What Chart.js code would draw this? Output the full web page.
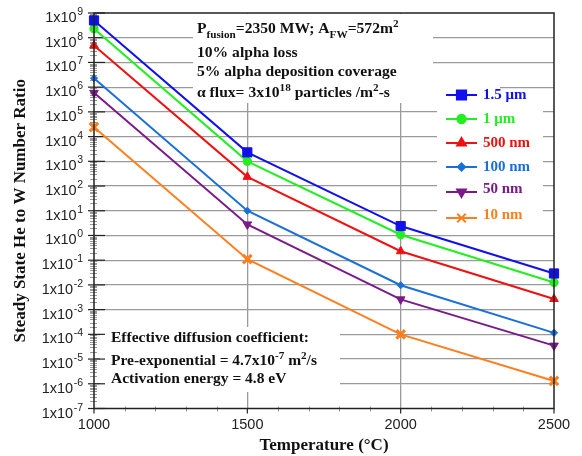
<!DOCTYPE html>
<html><head><meta charset="utf-8">
<script src="https://cdn.jsdelivr.net/npm/chart.js@4.4.0/dist/chart.umd.min.js"></script>
<style>html,body{margin:0;padding:0;background:#fff}#wrap{width:582px;height:456px}</style>
</head><body><div id="wrap"><canvas id="c" width="582" height="456"></canvas></div>
<script>
// ---- data ----
const temperatures = [1000, 1500, 2000, 2500];
const seriesNames = ['1.5 \u03bcm', '1 \u03bcm', '500 nm', '100 nm', '50 nm', '10 nm'];
const ratio_1_5um = [5.0e8, 2.3e3, 2.4, 2.9e-2];
const ratio_1um   = [2.3e8, 1.0e3, 1.07, 1.25e-2];
const ratio_500nm = [4.8e7, 2.35e2, 2.3e-1, 2.7e-3];
const ratio_100nm = [2.3e6, 10, 9.7e-3, 1.15e-4];
const ratio_50nm  = [5.9e5, 2.8, 2.6e-3, 3.5e-5];
const ratio_10nm  = [2.4e4, 1.1e-1, 1.0e-4, 1.3e-6];
const yTickExponents = [-7,-6,-5,-4,-3,-2,-1,0,1,2,3,4,5,6,7,8,9];
const xTickValues = [1000, 1500, 2000, 2500];
const xTitle = 'Temperature (\u00b0C)';
const yTitle = 'Steady State He to W Number Ratio';
const topNote = [
  [['P','n'],['fusion','sub'],['=2350 MW; A','n'],['FW','sub'],['=572m','n'],['2','sup']],
  [['10% alpha loss','n']],
  [['5% alpha deposition coverage','n']],
  [['\u03b1 flux= 3x10','n'],['18','sup'],[' particles /m','n'],['2','sup'],['-s','n']]
];
const bottomNote = [
  [['Effective diffusion coefficient:','n']],
  [['Pre-exponential = 4.7x10','n'],['-7','sup'],[' m','n'],['2','sup'],['/s','n']],
  [['Activation energy = 4.8 eV','n']]
];

// ---- styles ----
const colors = ['#1010ee', '#22ee22', '#ee1111', '#1a6fd8', '#7a1a88', '#ff7f1e'];
const styles = [
  {pointStyle:'rect', radius:6.5, rotation:0, bw:1},
  {pointStyle:'circle', radius:4.2, rotation:0, bw:1},
  {pointStyle:'triangle', radius:5, rotation:0, bw:1},
  {pointStyle:'rectRot', radius:3.6, rotation:0, bw:1},
  {pointStyle:'triangle', radius:5, rotation:180, bw:1},
  {pointStyle:'crossRot', radius:6, rotation:0, bw:3.2}
];
const allSeries = [ratio_1_5um, ratio_1um, ratio_500nm, ratio_100nm, ratio_50nm, ratio_10nm];
const SERIF = '"Liberation Serif", "Times New Roman", serif';
const SANS = '"Liberation Sans", Arial, sans-serif';

const datasets = allSeries.map((vals, i) => ({
  label: seriesNames[i],
  data: temperatures.map((t, j) => ({x: t, y: vals[j]})),
  borderColor: colors[i],
  backgroundColor: colors[i],
  borderWidth: 2,
  pointStyle: styles[i].pointStyle,
  pointRadius: styles[i].radius,
  pointRotation: styles[i].rotation,
  pointBorderWidth: styles[i].bw,
  tension: 0,
  clip: false
}));

function drawRich(ctx, x, y, parts, size) {
  let cx = x;
  for (const [t, k] of parts) {
    let fs = size, dy = 0;
    if (k === 'sub') { fs = size * 0.72; dy = 5; }
    if (k === 'sup') { fs = size * 0.72; dy = -6; }
    ctx.font = 'bold ' + fs + 'px ' + SERIF;
    ctx.fillText(t, cx, y + dy);
    cx += ctx.measureText(t).width;
  }
}

const decor = {
  id: 'decor',
  beforeDatasetsDraw(chart) {
    const ctx = chart.ctx;
    ctx.save();
    ctx.fillStyle = '#fff';
    ctx.fillRect(193, 14, 240, 89);
    ctx.fillRect(433, 80, 67, 23);
    ctx.fillRect(437, 90, 106, 142);
    ctx.fillRect(100, 327, 240, 65);
    const ys = chart.scales.y, xs = chart.scales.x;
    const a = chart.chartArea;
    // y minor ticks
    ctx.strokeStyle = '#999'; ctx.lineWidth = 1;
    for (let e = -7; e < 9; e++) {
      for (let m = 2; m <= 9; m++) {
        const py = Math.round(ys.getPixelForValue(m * Math.pow(10, e))) + 0.5;
        ctx.beginPath(); ctx.moveTo(a.left - 4, py); ctx.lineTo(a.left + 3, py); ctx.stroke();
      }
    }
    // x minor ticks
    for (let v = 1100; v < 2500; v += 100) {
      if (v % 500 === 0) continue;
      const px = Math.round(xs.getPixelForValue(v)) + 0.5;
      ctx.beginPath(); ctx.moveTo(px, a.bottom - 2); ctx.lineTo(px, a.bottom + 3); ctx.stroke();
    }
    // y major ticks
    ctx.strokeStyle = '#222'; ctx.lineWidth = 1.2;
    for (const e of yTickExponents) {
      const py = ys.getPixelForValue(Math.pow(10, e));
      ctx.beginPath(); ctx.moveTo(a.left - 6, py); ctx.lineTo(a.left + 11, py); ctx.stroke();
    }
    for (const v of xTickValues) {
      const px = xs.getPixelForValue(v);
      ctx.beginPath(); ctx.moveTo(px, a.bottom); ctx.lineTo(px, a.bottom + 5); ctx.stroke();
    }
    ctx.restore();
  },
  afterDatasetsDraw(chart) {
    const ctx = chart.ctx;
    const a = chart.chartArea;
    const ys = chart.scales.y;
    ctx.save();
    // frame
    ctx.strokeStyle = '#222'; ctx.lineWidth = 1.5;
    ctx.strokeRect(a.left, a.top, a.right - a.left, a.bottom - a.top);
    // y tick labels with superscript exponents
    ctx.fillStyle = '#222';
    ctx.textBaseline = 'alphabetic';
    for (const e of yTickExponents) {
      const py = ys.getPixelForValue(Math.pow(10, e));
      const base = '1x10', ex = String(e);
      ctx.font = '14.5px ' + SANS;
      const wb = ctx.measureText(base).width;
      ctx.font = '10.5px ' + SANS;
      const we = ctx.measureText(ex).width;
      const right = a.left - 11;
      ctx.font = '14.5px ' + SANS;
      ctx.fillText(base, right - we - wb - 0.5, py + 9);
      ctx.font = '10.5px ' + SANS;
      ctx.fillText(ex, right - we, py + 2);
    }
    // annotations
    ctx.fillStyle = '#111';
    const tl = [33, 57, 76, 97];
    topNote.forEach((ln, i) => drawRich(ctx, 197, tl[i], ln, 15.6));
    const bl = [342, 365, 383];
    bottomNote.forEach((ln, i) => drawRich(ctx, 111, bl[i], ln, 15.5));
    // legend
    const ly = [95, 119, 143, 167, 192, 218];
    chart.data.datasets.forEach((ds, i) => {
      const y = ly[i];
      ctx.strokeStyle = colors[i]; ctx.lineWidth = 2;
      ctx.beginPath(); ctx.moveTo(446, y); ctx.lineTo(477, y); ctx.stroke();
      ctx.fillStyle = colors[i];
      Chart.helpers.drawPoint(ctx, {pointStyle: styles[i].pointStyle, rotation: styles[i].rotation,
        radius: styles[i].radius, borderWidth: styles[i].bw}, 461.5, y);
      ctx.font = 'bold 15px ' + SERIF;
      ctx.textBaseline = 'middle';
      ctx.fillText(ds.label, 483, y - (i >= 4 ? 3 : 0));
      ctx.textBaseline = 'alphabetic';
    });
    ctx.restore();
  }
};

new Chart(document.getElementById('c'), {
  type: 'line',
  data: { datasets },
  options: {
    responsive: false,
    animation: false,
    devicePixelRatio: 1,
    layout: { padding: { top: 13, right: 28, left: 0, bottom: 0 } },
    plugins: { legend: { display: false }, tooltip: { enabled: false } },
    scales: {
      x: {
        type: 'linear', min: 1000, max: 2500,
        afterBuildTicks: s => { s.ticks = xTickValues.map(v => ({value: v})); },
        afterFit: s => { s.height = 47.5; },
        grid: { color: c => (c.tick && (c.tick.value === 1500 || c.tick.value === 2000)) ? '#9a9a9a' : 'rgba(0,0,0,0)', lineWidth: 1.3, drawTicks: false },
        border: { display: false },
        ticks: { color: '#222', font: { family: SANS, size: 14.5 }, padding: 8, maxRotation: 0, callback: v => String(v) },
        title: { display: true, text: xTitle, color: '#111', font: { family: SERIF, size: 17, weight: 'bold' }, padding: { top: 0, bottom: 0 } }
      },
      y: {
        type: 'logarithmic', min: 1e-7, max: 1e9,
        afterBuildTicks: s => { s.ticks = yTickExponents.map(e => ({value: Number('1e' + e)})); },
        afterFit: s => { s.width = 94; },
        grid: { color: c => (c.tick && c.tick.value > 1e-7 && c.tick.value < 1e9) ? '#9a9a9a' : 'rgba(0,0,0,0)', lineWidth: 1.3, drawTicks: false },
        border: { display: false },
        ticks: { display: false },
        title: { display: true, text: yTitle, color: '#111', font: { family: SERIF, size: 17, weight: 'bold' }, padding: { top: 10, bottom: 0 } }
      }
    }
  },
  plugins: [decor]
});
</script></body></html>
